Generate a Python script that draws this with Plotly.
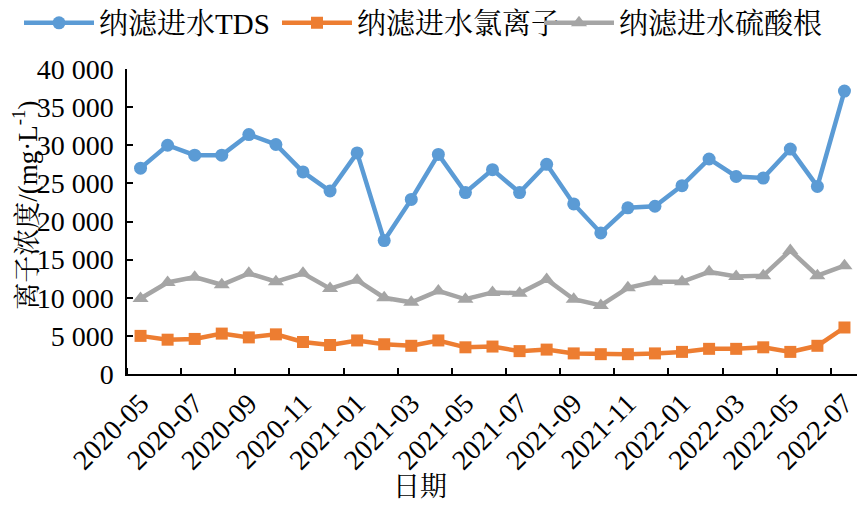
import plotly.graph_objects as go

months = ["2020-05", "2020-06", "2020-07", "2020-08", "2020-09", "2020-10", "2020-11", "2020-12",
          "2021-01", "2021-02", "2021-03", "2021-04", "2021-05", "2021-06", "2021-07", "2021-08",
          "2021-09", "2021-10", "2021-11", "2021-12", "2022-01", "2022-02", "2022-03", "2022-04",
          "2022-05", "2022-06", "2022-07"]

tds = [27000, 30000, 28700, 28700, 31400, 30100, 26500, 24000, 29000, 17500, 22900, 28800,
       23800, 26800, 23800, 27500, 22300, 18500, 21800, 22000, 24700, 28200, 25900, 25700,
       29500, 24600, 37100]
chloride = [5000, 4500, 4600, 5300, 4800, 5200, 4200, 3800, 4400, 3900, 3700, 4400,
            3500, 3600, 3000, 3200, 2700, 2600, 2600, 2700, 2900, 3300, 3300, 3500,
            2900, 3700, 6100]
sulfate = [9900, 12000, 12700, 11700, 13200, 12100, 13200, 11200, 12300, 10000, 9400, 10900,
           9800, 10700, 10600, 12400, 9800, 9000, 11300, 12100, 12100, 13400, 12800, 12900,
           16200, 12900, 14200]

series_names = ["纳滤进水TDS", "纳滤进水氯离子", "纳滤进水硫酸根"]
y_ticks = [0, 5000, 10000, 15000, 20000, 25000, 30000, 35000, 40000]
y_tick_labels = ["0", "5 000", "10 000", "15 000", "20 000", "25 000", "30 000", "35 000", "40 000"]
x_label_months = months[::2]

FONT = "Liberation Serif, Noto Serif CJK SC, Noto Sans CJK SC, serif"
x = list(range(len(months)))

# page body margin offset (default 8px) compensation
OFF = 8
# plot area in figure pixels
L, R, T, B = 127 - OFF, 858 - OFF, 69 - OFF, 374.5 - OFF
PW, PH = R - L, B - T

fig = go.Figure()
fig.add_trace(go.Scatter(x=x, y=tds, name=series_names[0], mode="lines+markers",
                         legend="legend",
                         line=dict(color="#5B9BD5", width=4.5),
                         marker=dict(symbol="circle", size=13, color="#5B9BD5")))
fig.add_trace(go.Scatter(x=x, y=chloride, name=series_names[1], mode="lines+markers",
                         legend="legend2",
                         line=dict(color="#ED7D31", width=4.5),
                         marker=dict(symbol="square", size=12, color="#ED7D31")))
fig.add_trace(go.Scatter(x=x, y=sulfate, name=series_names[2], mode="lines+markers",
                         legend="legend3",
                         line=dict(color="#A5A5A5", width=4.5),
                         marker=dict(symbol="triangle-up", size=14, color="#A5A5A5")))

leg = dict(orientation="h", xref="container", yref="container", y=(509 - 15) / 509,
           xanchor="left", yanchor="middle", font=dict(size=29, color="black"), itemwidth=70,
           bgcolor="rgba(0,0,0,0)")

fig.update_layout(
    width=865, height=509,
    margin=dict(l=L, r=865 - R, t=T, b=509 - B, autoexpand=False),
    paper_bgcolor="white", plot_bgcolor="white",
    font=dict(family=FONT, size=26, color="black"),
    showlegend=True,
    legend=dict(leg, x=11 / 865),
    legend2=dict(leg, x=269 / 865),
    legend3=dict(leg, x=531 / 865),
    xaxis=dict(range=[-0.5, len(months) - 0.5], showgrid=False, zeroline=False,
               showline=True, linecolor="black", linewidth=1.5,
               tickmode="array", tickvals=x[::2], ticktext=x_label_months,
               ticks="", tickangle=-45, tickfont=dict(size=28, color="black"),
               minor=dict(tickmode="linear", tick0=1.5, dtick=2, ticks="inside",
                          ticklen=6, tickcolor="black", tickwidth=1.5, showgrid=False)),
    yaxis=dict(range=[0, 40000], showgrid=False, zeroline=False,
               showline=True, linecolor="black", linewidth=1.5,
               tickmode="array", tickvals=y_ticks, ticktext=y_tick_labels,
               ticks="inside", ticklen=6, tickcolor="black", tickwidth=1.5,
               tickfont=dict(size=28, color="black"), ticklabelstandoff=6),
    annotations=[
        dict(text="日期", xref="paper", yref="paper",
             x=(420 - OFF - L) / PW, y=(B - (488 - OFF)) / PH,
             xanchor="center", yanchor="middle", showarrow=False,
             font=dict(size=27, color="black")),
        dict(text="离子浓度/(mg·L<sup>-1</sup>)", xref="paper", yref="paper",
             x=(25 - OFF - L) / PW, y=(B - (206 - OFF)) / PH, textangle=-90,
             xanchor="center", yanchor="middle", showarrow=False,
             font=dict(size=27, color="black")),
    ],
)

fig.write_html("out.html")
